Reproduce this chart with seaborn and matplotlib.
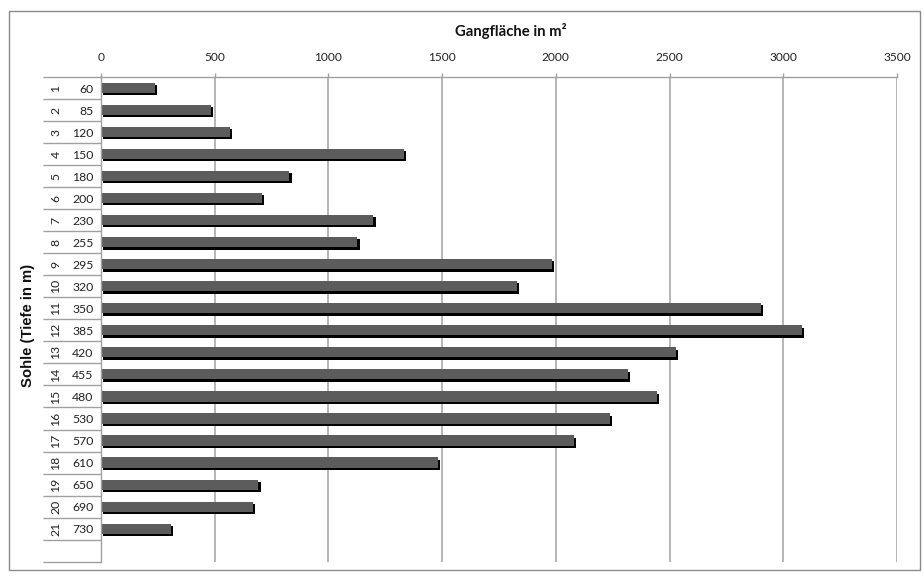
import matplotlib
matplotlib.use('Agg')
import matplotlib.pyplot as plt
import seaborn as sns
import pandas as pd
from matplotlib import patheffects, transforms
from matplotlib.patches import Rectangle

# ---- data ----
sohle = list(range(1, 22))
tiefe = [60, 85, 120, 150, 180, 200, 230, 255, 295, 320, 350, 385, 420, 455, 480,
         530, 570, 610, 650, 690, 730]
flaeche = [237, 484, 567, 1333, 828, 708, 1198, 1127, 1983, 1830, 2903, 3083, 2529,
           2318, 2445, 2239, 2080, 1483, 692, 668, 308]
x_ticks = [0, 500, 1000, 1500, 2000, 2500, 3000, 3500]
x_title = "Gangfläche in m²"
y_title = "Sohle (Tiefe in m)"

sns.set_theme(style='white')
plt.rcParams['font.family'] = ['Lato', 'DejaVu Sans']

W, H = 924, 576
fig = plt.figure(figsize=(W / 100, H / 100), dpi=100)
ax_left, ax_right, ax_top, ax_bottom = 101, 897, 77, 561.7
ax = fig.add_axes([ax_left / W, 1 - ax_bottom / H, (ax_right - ax_left) / W, (ax_bottom - ax_top) / H])

df = pd.DataFrame({'label': [str(t) for t in tiefe], 'value': flaeche})
sns.barplot(data=df, x='value', y='label', order=df['label'].tolist(), orient='h',
            color='#5c5c5c', saturation=1, width=0.46, ax=ax, linewidth=0)

for p in ax.patches:
    p.set_path_effects([patheffects.SimplePatchShadow(offset=(1.6, -1.6), shadow_rgbFace='black', alpha=1),
                        patheffects.Normal()])

n = len(tiefe)
ax.set_ylim(n + 0.5, -0.5)  # one empty row at the bottom
ax.set_xlim(0, 3500)
ax.xaxis.tick_top()
ax.set_xticks(x_ticks)
ax.set_xticklabels([str(t) for t in x_ticks])
ax.tick_params(axis='x', which='major', top=True, bottom=False, length=3, width=1,
               color='#a0a0a0', labelsize=8.6, pad=7, labelcolor='#222222')

ax.xaxis.grid(True, color='#b0b0b0', lw=1.3)
ax.yaxis.grid(False)
ax.set_axisbelow(True)

# y categories
ax.set_yticks(range(n))
ax.set_yticklabels([str(t) for t in tiefe])
ax.tick_params(axis='y', which='major', length=0, labelsize=8.8, pad=5.5, labelcolor='#222222')
ax.set_yticks([i - 0.5 for i in range(n + 2)], minor=True)
ax.tick_params(axis='y', which='minor', left=True, length=41.8, width=1, color='#a0a0a0')

trans = transforms.blended_transform_factory(fig.transFigure, ax.transData)
for i, s in enumerate(sohle):
    ax.text(56 / W, i, str(s), rotation=90, ha='center', va='center', fontsize=8.8,
            color='#222222', transform=trans)

for side in ['right', 'bottom']:
    ax.spines[side].set_visible(False)
for side in ['left', 'top']:
    ax.spines[side].set_color('#a0a0a0')
    ax.spines[side].set_linewidth(1)

ax.set_xlabel(x_title, fontsize=10.7, fontweight='bold', color='#111111')
ax.xaxis.set_label_position('top')
ax.xaxis.set_label_coords((511 - ax_left) / (ax_right - ax_left), 1 + (ax_top - 31) / (ax_bottom - ax_top))
ax.xaxis.label.set_va('center')

ax.set_ylabel(y_title, fontsize=10.7, fontweight='bold', family=['Liberation Sans', 'DejaVu Sans'], color='#111111')
ax.yaxis.set_label_coords((28 - ax_left) / (ax_right - ax_left), (ax_bottom - 325) / (ax_bottom - ax_top))
ax.yaxis.label.set_va('center')

fig.add_artist(Rectangle((9 / W, 1 - 570 / H), (920 - 9) / W, (570 - 11) / H, transform=fig.transFigure,
                         fill=False, edgecolor='#8a8a8a', lw=1))

fig.savefig('out.png', dpi=100)
